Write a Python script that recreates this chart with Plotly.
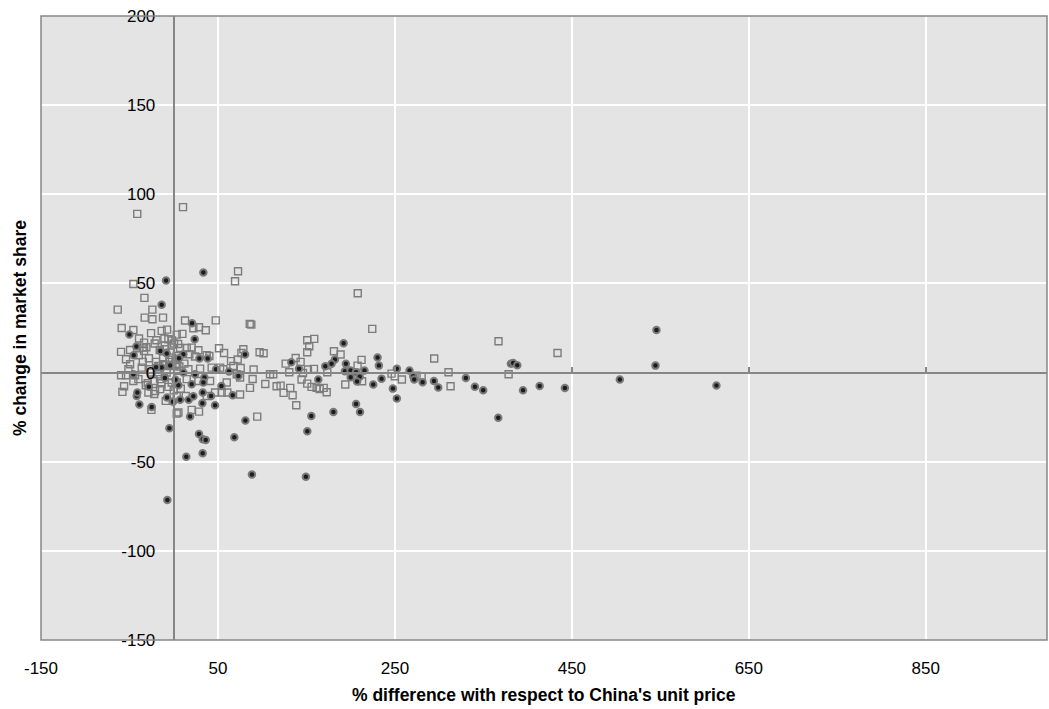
import plotly.graph_objects as go

# Series 1: open squares (x = % price difference vs China, y = % change in market share)
sq_x = [
    72.7, 69.3, -45.6, -33.1, -63.3, -24.1, -32.8, -24.1, -12.1, 12.8, 47.5, 85.9, -58.8, -45.6,
    -7.5, -13.6, 22.2, 28.6, 36.2, -25.6, 3.4, 9.8, -39.2, -10.5, -6.0, -19.6, -33.5, -21.5,
    -30.9, -35.0, -2.3, 0.4, 7.2, 14.7, 20.3, 27.9, 51.2, 56.9, 78.7, 76.5, -59.5, -49.3, -53.9,
    -39.5, -33.5, -15.8, -9.4, -4.1, -1.9, 3.4, 17.7, 24.1, 37.3, 40.3, 64.8, 72.3, -49.3, -51.2,
    -59.5, -53.9, -43.7, -36.2, -26.7, -17.3, -11.7, -4.1, 2.3, 6.4, 16.6, 29.8, 42.9, 52.4,
    56.1, 67.4, 75.7, 71.2, -56.1, -31.6, -29.4, -45.6, -39.9, -22.2, -15.4, -2.3, 3.4, 14.7,
    27.9, 41.1, 59.9, 75.0, -58.0, -28.6, -21.1, -15.4, -9.0, 3.4, 13.6, 37.3, 46.7, 54.2, 60.6,
    75.0, -25.2, 5.3, 3.4, 20.3, 28.6,
    -28, -20, -12, -5, 2, -25, -18, -8, -3, 4, -14, -6, 0, 8, -22, 12, -35, -10, -2, 5,
    87.7, 97.1, 101.6, 90.3, 89.2, 86.2, 103.5, 108.8, 112.5, 94.4, 116.3, 120.8, 124.2, 131.7,
    134.4, 126.5, 130.6, 137.8, 143.4, 146.1, 151.7, 158.5, 144.5, 150.9, 155.8, 161.5, 138.5,
    150.9, 158.8, 153.2, 150.9,
    181.1, 188.6, 173.6, 169.5, 172.9, 165.0, 193.9, 207.8, 212.3, 212.9, 224.4, 246.2, 249.9,
    257.9, 294.4, 274.5, 280.2, 310.6, 312.9, 367.1, 378.5, 433.8,
    -41.2, 10.5, 208.0,
]
sq_y = [
    56.8, 51.2, 49.7, 41.9, 35.3, 35.3, 30.8, 29.9, 30.8, 29.2, 29.3, 27.3, 25.0, 23.9,
    24.1, 23.4, 24.9, 25.4, 23.7, 22.1, 21.3, 21.7, 19.1, 19.1, 18.7, 18.1, 16.8, 16.3,
    14.2, 14.0, 15.7, 16.4, 13.8, 13.8, 14.0, 12.5, 13.6, 11.0, 13.1, 11.0, 11.6, 12.7, 7.5,
    9.7, 12.1, 12.7, 13.1, 11.2, 8.4, 9.3, 10.3, 9.0, 9.7, 9.3, 6.4, 7.3, 4.7, 1.9,
    -1.5, -1.5, -1.5, 2.8, 1.9, 3.7, 4.7, 3.7, 4.1, 3.4, 1.9, 2.2, 2.8, 2.8,
    1.9, 3.7, 2.6, -0.9, -7.7, -7.1, -6.0, -4.7, -3.7, -4.7, -3.7, -5.6, -5.6, -3.7,
    -4.7, -4.7, -5.6, -2.8, -10.8, -11.2, -10.3, -9.3, -15.9, -13.1, -13.1, -13.1, -11.2, -11.2, -11.2,
    -12.3, -20.9, -22.4, -23.0, -20.9, -21.9,
    8, 6, 8, 6, 7, 0, -1, 0, -2, 1, -6, -8, -10, -9, -12, 5, 6, 15, 18, 16,
    26.9, 11.4, 10.8, 1.7, -3.6, -8.6, -6.4, -0.9, -0.9, -24.7, -7.7, -7.3, -11.4, -8.6,
    -12.7, 5.0, 0.2, 8.2, 6.0, -0.2, 1.7, 2.1, -3.9, -6.2, -8.0, -8.6, -18.3,
    18.1, 18.9, 14.8, 11.4,
    12.0, 10.1, 0.2, -8.6, -11.0, -9.2, -6.7, 3.9, 7.1, -4.9, 24.5, -0.6, -2.1,
    -3.9, 7.9, -1.7, -2.1, 0.2, -7.7, 17.6, -0.9, 11.0,
    89.0, 92.8, 44.5,
]

# Series 2: filled markers
pt_x = [
    33.5, -8.7, -13.6, 20.7, -50.1, 23.7, -42.2, -45.2, -15.1, -7.9, 10.9, 29.0, 38.4, 80.6,
    -45.6, -13.6, 10.9, 24.1, 34.7, 47.8, 62.5, 73.1, 5.3, 20.3, 33.5, 53.9, -41.8, -41.1,
    -7.5, -0.8, 7.2, 16.9, 22.2, 32.4, 32.8, 42.2, 46.7, 66.7, -38.8, -24.9, 18.5, 81.0,
    -4.9, 28.6, 32.8, 36.2, 68.5, 32.7, 14.2, -7.2,
    -4, -20, 2, -10, 6, -28,
    132.9, 141.6, 155.5, 151.0, 149.4, 88.4, 163.4,
    192.0, 182.2, 178.4, 171.3, 194.6, 193.5, 199.9, 206.1, 200.0, 210.2, 207.2, 215.6, 206.1,
    210.6, 180.5, 225.5, 234.9, 230.4, 231.9, 252.2, 247.7, 252.2, 266.5, 270.7, 271.8, 281.3,
    294.1, 299.0, 330.2, 340.4, 349.8, 366.8, 381.1, 383.7, 388.3, 394.8, 413.6,
    442.1, 504.2, 545.6, 544.5, 613.4,
]
pt_y = [
    56.1, 51.6, 38.1, 27.7, 21.3, 18.7, 14.6, 9.7, 12.1, 10.7, 10.3, 7.9, 7.9, 10.1,
    -0.9, 2.8, 0.0, -0.9, -2.8, 1.9, 0.6, -1.9, -7.1, -6.5, -5.6, -7.5, -13.1, -11.2,
    -14.0, -16.3, -15.3, -15.3, -13.3, -17.2, -11.2, -13.1, -18.3, -12.7, -17.9, -19.3, -24.7, -26.9,
    -31.2, -34.4, -37.4, -37.8, -36.3, -45.3, -47.2, -71.5,
    4, 3, -4, -3, 8, -8,
    5.8, 2.2, -24.3, -32.9, -58.4, -57.2, -3.9,
    16.4, 7.3, 4.9, 3.6, 4.9, 0.7, 1.1, 0.2, -2.6, -2.4, -5.0, 1.1, -17.6,
    -22.1, -22.1, -6.7, -3.4, 8.4, 3.9, 2.2, -9.0, -14.6, 1.1, -2.1, -3.9, -5.4,
    -4.7, -8.4, -3.0, -8.0, -9.9, -25.4, 5.0, 5.4, 4.1, -9.9, -7.5,
    -8.6, -3.9, 23.9, 3.9, -7.3,
]

x_ticks = [-150, 50, 250, 450, 650, 850]
y_ticks = [-150, -100, -50, 0, 50, 100, 150, 200]
x_range = [-150, 987]
y_range = [-150, 200]

x_title = "% difference with respect to China's unit price"
y_title = "% change in market share"

FONT = "Liberation Sans, Arial, sans-serif"
AXIS_GREY = "#868686"

# plain hyphen-minus labels
x_labels = [str(v) for v in x_ticks]
y_labels = [str(v) for v in y_ticks]

fig = go.Figure()
fig.add_trace(go.Scatter(
    x=sq_x, y=sq_y, mode="markers", xaxis="x", yaxis="y",
    marker=dict(symbol="square-open", size=7, color="#7c7c7c", line=dict(width=1.4)),
    showlegend=False, hoverinfo="skip",
))
fig.add_trace(go.Scatter(
    x=pt_x, y=pt_y, mode="markers", xaxis="x2", yaxis="y",
    marker=dict(symbol="circle", size=6.5, color="#1c1c1c",
                line=dict(width=2, color="#7a7a7a")),
    showlegend=False, hoverinfo="skip",
))

# the vertical axis crosses at x = 0, the horizontal one at y = 0
y_cross = (0 - x_range[0]) / (x_range[1] - x_range[0])
x_cross = (0 - y_range[0]) / (y_range[1] - y_range[0])

fig.update_layout(
    width=1049, height=709,
    margin=dict(l=41, r=2, t=16, b=69),
    paper_bgcolor="white", plot_bgcolor="#e4e4e4",
    font=dict(family=FONT, size=17, color="black"),
    xaxis=dict(
        range=x_range, domain=[0, 1], tickvals=x_ticks, ticktext=x_labels,
        showgrid=True, gridcolor="white", gridwidth=1.5,
        zeroline=False, showline=False, ticks="outside", ticklen=0,
        ticklabelstandoff=13, tickfont=dict(size=17),
    ),
    xaxis2=dict(
        range=x_range, overlaying="x", matches="x", anchor="free", position=x_cross,
        side="bottom", tickvals=x_ticks, showticklabels=False,
        showgrid=False, zeroline=False,
        showline=True, linecolor=AXIS_GREY, linewidth=1.5,
        ticks="inside", ticklen=5, tickcolor=AXIS_GREY, tickwidth=1.5,
    ),
    yaxis=dict(
        range=y_range, tickvals=y_ticks, ticktext=y_labels,
        anchor="free", position=y_cross,
        showgrid=True, gridcolor="white", gridwidth=1.5,
        zeroline=False, showline=True, linecolor=AXIS_GREY, linewidth=2,
        ticks="outside", ticklen=0, ticklabelstandoff=14, tickfont=dict(size=17),
    ),
    shapes=[dict(type="rect", xref="paper", yref="paper", x0=0, x1=1, y0=0, y1=1,
                 line=dict(color=AXIS_GREY, width=1.5), layer="above")],
    annotations=[
        dict(text="<b>%s</b>" % x_title, xref="paper", yref="paper", x=0.5, y=0,
             xanchor="center", yanchor="middle", yshift=-55, showarrow=False,
             font=dict(size=17.5)),
        dict(text="<b>%s</b>" % y_title, xref="paper", yref="paper", x=0, y=0.5,
             xanchor="center", yanchor="middle", xshift=-21, textangle=-90,
             showarrow=False, font=dict(size=17.5)),
    ],
)

fig.write_html("out.html")
